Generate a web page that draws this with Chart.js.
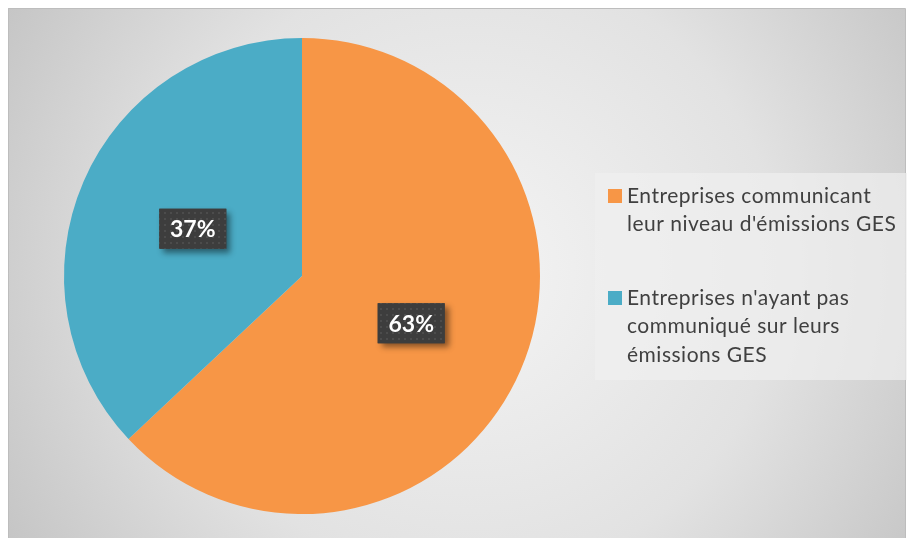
<!DOCTYPE html>
<html>
<head>
<meta charset="utf-8">
<script src="https://cdn.jsdelivr.net/npm/chart.js@4"></script>
<style>
  html, body { margin: 0; padding: 0; background: #ffffff; overflow: hidden; }
  #wrap { width: 911px; height: 538px; position: relative; }
</style>
</head>
<body>
<div id="wrap"><canvas id="canvas" width="911" height="538"></canvas></div>
<script>
const ctx = document.getElementById('canvas').getContext('2d');

const categories = [
    "Entreprises communicant leur niveau d'émissions GES",
    "Entreprises n'ayant pas communiqué sur leurs émissions GES"
];
// lines as they wrap in the legend
const legendLines = [
    ["Entreprises communicant", "leur niveau d'émissions GES"],
    ["Entreprises n'ayant pas", "communiqué sur leurs", "émissions GES"]
];
const values = [63, 37];
const colors = ['#F79646', '#4BACC6'];

const FONT = 'Lato, "Open Sans", sans-serif';

function dotPattern(c) {
    const p = document.createElement('canvas');
    p.width = 6; p.height = 6;
    const pc = p.getContext('2d');
    pc.fillStyle = '#3d3d3d';
    pc.fillRect(0, 0, 6, 6);
    pc.fillStyle = '#4c4c4c';
    pc.fillRect(2, 2, 2, 2);
    return c.createPattern(p, 'repeat');
}

const config = {
    type: 'pie',
    data: {
        labels: categories,
        datasets: [{
            data: values,
            backgroundColor: colors,
            borderWidth: 0
        }]
    },
    options: {
        responsive: false,
        animation: false,
        layout: {
            padding: { left: 64, right: 371, top: 38, bottom: 24 }
        },
        plugins: {
            legend: { display: false },
            tooltip: { enabled: false }
        }
    },
    plugins: [
        {
            id: 'frame',
            beforeDraw: (chart) => {
                const c = chart.ctx;
                c.save();
                c.fillStyle = '#ffffff';
                c.fillRect(0, 0, chart.width, chart.height);
                const g = c.createRadialGradient(470, 270, 0, 470, 270, 560);
                g.addColorStop(0, '#f4f4f4');
                g.addColorStop(0.55, '#e2e2e2');
                g.addColorStop(1, '#c2c2c2');
                c.fillStyle = g;
                c.fillRect(8, 8, 897, 530);
                c.strokeStyle = '#bdbdbd';
                c.lineWidth = 1;
                c.beginPath();
                c.moveTo(8.5, 538);
                c.lineTo(8.5, 8.5);
                c.lineTo(905.5, 8.5);
                c.lineTo(905.5, 538);
                c.stroke();

                // legend box
                c.fillStyle = 'rgba(240,240,240,0.7)';
                c.fillRect(595, 173, 312, 207);
                c.restore();
            }
        },
        {
            id: 'labels',
            afterDraw: (chart) => {
                const c = chart.ctx;
                const meta = chart.getDatasetMeta(0);
                const pat = dotPattern(c);
                c.save();
                meta.data.forEach((arc, i) => {
                    const mid = (arc.startAngle + arc.endAngle) / 2;
                    const r = arc.outerRadius * 0.5;
                    const x = arc.x + Math.cos(mid) * r;
                    const y = arc.y + Math.sin(mid) * r;
                    const w = 67, h = 40;
                    c.save();
                    c.shadowColor = 'rgba(0,0,0,0.45)';
                    c.shadowBlur = 6;
                    c.shadowOffsetX = 4;
                    c.shadowOffsetY = 4;
                    c.fillStyle = '#404040';
                    c.fillRect(x - w / 2, y - h / 2, w, h);
                    c.restore();
                    c.fillStyle = pat;
                    c.fillRect(x - w / 2, y - h / 2, w, h);
                    c.fillStyle = '#ffffff';
                    c.font = 'bold 23px ' + FONT;
                    c.textAlign = 'center';
                    c.textBaseline = 'middle';
                    c.fillText(values[i] + '%', x, y + 1);
                });
                c.restore();
            }
        },
        {
            id: 'legendBox',
            afterDraw: (chart) => {
                const c = chart.ctx;
                c.save();
                c.font = '21px ' + FONT;
                c.letterSpacing = '0.5px';
                c.textBaseline = 'middle';
                c.textAlign = 'left';
                const starts = [196, 298];
                legendLines.forEach((lines, i) => {
                    const y0 = starts[i];
                    c.fillStyle = colors[i];
                    c.fillRect(608, y0 - 7, 14, 14);
                    c.fillStyle = '#404040';
                    lines.forEach((t, k) => {
                        c.fillText(t, 627, y0 + k * 28.5);
                    });
                });
                c.restore();
            }
        }
    ]
};

const chart = new Chart(ctx, config);
</script>
</body>
</html>
